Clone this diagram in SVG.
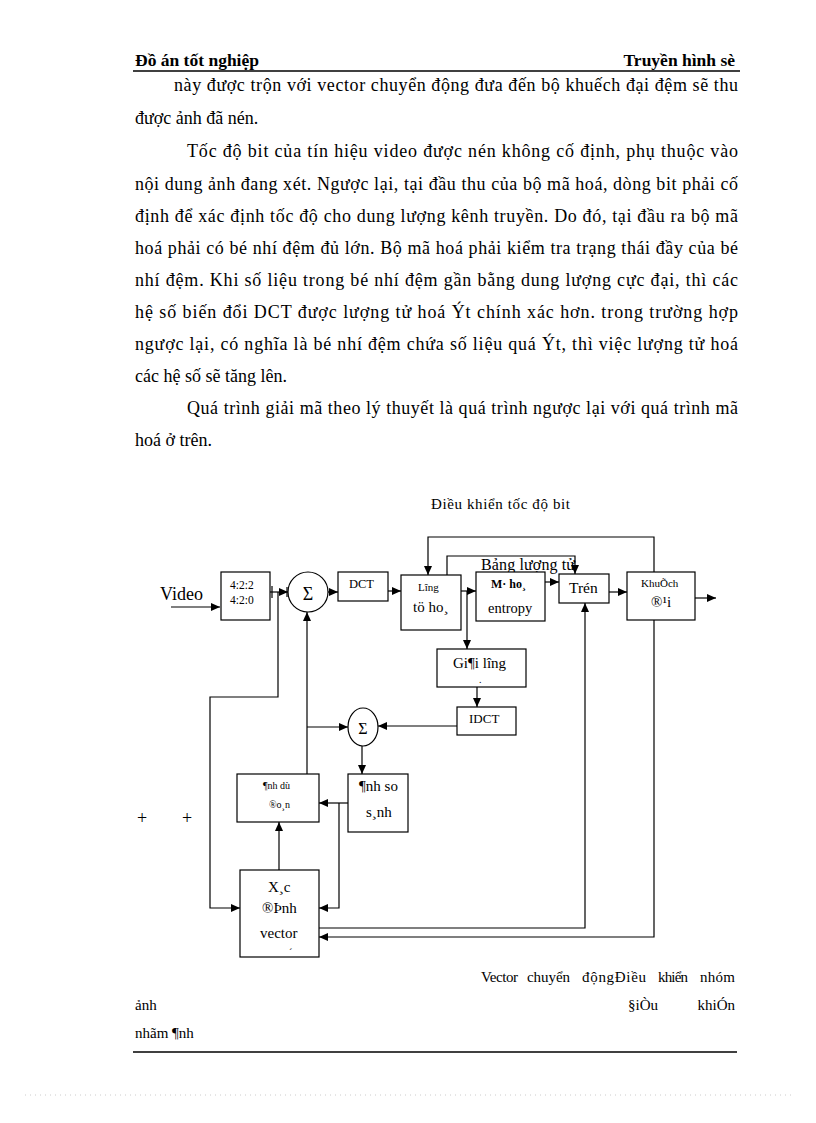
<svg xmlns="http://www.w3.org/2000/svg" width="816" height="1123" viewBox="0 0 816 1123">
<style>
.t{font-family:"Liberation Serif","Times New Roman",serif;fill:#000}
.b{font-size:18px}
.h{font-size:17.5px;font-weight:bold}
.box{fill:#fff;stroke:#000;stroke-width:1.2}
.c{fill:none;stroke:#000;stroke-width:1.2}
</style>
<defs>
<marker id="a" markerWidth="9" markerHeight="8" refX="9" refY="4" orient="auto" markerUnits="userSpaceOnUse">
<path d="M0,0 L9,4 L0,8 z" fill="#000"/>
</marker>
</defs>
<rect width="816" height="1123" fill="#fff"/>
<!-- header -->
<text class="t h" x="135" y="66">Đồ án tốt nghiệp</text>
<text class="t h" x="735" y="66" text-anchor="end">Truyền hình sè</text>
<line x1="133" y1="71" x2="740" y2="71" stroke="#000" stroke-width="1.3"/>
<!-- body -->
<g class="t b">
<text x="174" y="91" textLength="564" lengthAdjust="spacing">này được trộn với vector chuyển động đưa đến bộ khuếch đại đệm sẽ thu</text>
<text x="135" y="124">được ảnh đã nén.</text>
<text x="187" y="157" textLength="551" lengthAdjust="spacing">Tốc độ bit của tín hiệu video được nén không cố định, phụ thuộc vào</text>
<text x="135" y="190" textLength="603" lengthAdjust="spacing">nội dung ảnh đang xét. Ngược lại, tại đầu thu của bộ mã hoá, dòng bit phải cố</text>
<text x="135" y="222" textLength="603" lengthAdjust="spacing">định để xác định tốc độ cho dung lượng kênh truyền. Do đó, tại đầu ra bộ mã</text>
<text x="135" y="254" textLength="603" lengthAdjust="spacing">hoá phải có bé nhí đệm đủ lớn. Bộ mã hoá phải kiểm tra trạng thái đầy của bé</text>
<text x="135" y="286" textLength="603" lengthAdjust="spacing">nhí đệm. Khi số liệu trong bé nhí đệm gần bằng dung lượng cực đại, thì các</text>
<text x="135" y="318" textLength="603" lengthAdjust="spacing">hệ số biến đổi DCT được lượng tử hoá Ýt chính xác hơn. trong trường hợp</text>
<text x="135" y="350" textLength="603" lengthAdjust="spacing">ngược lại, có nghĩa là bé nhí đệm chứa số liệu quá Ýt, thì việc lượng tử hoá</text>
<text x="135" y="382">các hệ số sẽ tăng lên.</text>
<text x="187" y="414" textLength="551" lengthAdjust="spacing">Quá trình giải mã theo lý thuyết là quá trình ngược lại với quá trình mã</text>
<text x="135" y="446">hoá ở trên.</text>
</g>
<!-- diagram labels -->
<text class="t" x="431" y="509" font-size="15" textLength="139" lengthAdjust="spacing">Điều khiển tốc độ bit</text>
<text class="t" x="160" y="600" font-size="18">Video</text>
<text class="t" x="481" y="570" font-size="16" textLength="94" lengthAdjust="spacing">Bảng lượng tử</text>
<text class="t" x="142" y="824" font-size="18" text-anchor="middle">+</text>
<text class="t" x="187" y="824" font-size="18" text-anchor="middle">+</text>
<!-- connectors -->
<g id="connectors" class="c">
<line x1="171" y1="607" x2="220" y2="607" marker-end="url(#a)"/>
<line x1="270" y1="592" x2="288" y2="592" marker-end="url(#a)"/>
<line x1="272" y1="586" x2="272" y2="598"/>
<line x1="287" y1="587" x2="287" y2="597"/>
<line x1="328" y1="592" x2="338" y2="592" marker-end="url(#a)"/>
<line x1="388" y1="591" x2="401" y2="591" marker-end="url(#a)"/>
<line x1="461" y1="591" x2="476" y2="591" marker-end="url(#a)"/>
<line x1="467" y1="591" x2="467" y2="649" marker-end="url(#a)"/>
<line x1="545" y1="582" x2="559" y2="582" marker-end="url(#a)"/>
<line x1="609" y1="592" x2="627" y2="592" marker-end="url(#a)"/>
<line x1="695" y1="598" x2="716" y2="598" marker-end="url(#a)"/>
<polyline points="654,572 654,537 428,537 428,575" marker-end="url(#a)"/>
<polyline points="447,575 447,556 575,556 575,574" marker-end="url(#a)"/>
<line x1="477" y1="687" x2="477" y2="707" marker-end="url(#a)"/>
<line x1="457" y1="726" x2="378" y2="726" marker-end="url(#a)"/>
<line x1="362" y1="746" x2="362" y2="774" marker-end="url(#a)"/>
<line x1="307" y1="774" x2="307" y2="612" marker-end="url(#a)"/>
<line x1="307" y1="727" x2="348" y2="727" marker-end="url(#a)"/>
<line x1="348" y1="803" x2="319" y2="803" marker-end="url(#a)"/>
<polyline points="339,803 339,908 319,908" marker-end="url(#a)"/>
<line x1="279" y1="870" x2="279" y2="822" marker-end="url(#a)"/>
<polyline points="278,592 278,697 210,697 210,908 240,908" marker-end="url(#a)"/>
<polyline points="319,928 585,928 585,603" marker-end="url(#a)"/>
<polyline points="654,620 654,937 319,937" marker-end="url(#a)"/>
</g>
<!-- nodes -->
<g id="n-422">
<rect class="box" x="221" y="572" width="49" height="48"/>
<text class="t" x="230" y="589" font-size="11.5">4:2:2</text>
<text class="t" x="230" y="604" font-size="11.5">4:2:0</text>
</g>
<g id="n-sum1">
<circle class="box" cx="308" cy="592" r="20"/>
<text class="t" x="308" y="600" font-size="18" text-anchor="middle">Σ</text>
</g>
<g id="n-dct">
<rect class="box" x="338" y="572" width="50" height="29"/>
<text class="t" x="349" y="588" font-size="12.5">DCT</text>
</g>
<g id="n-luong">
<rect class="box" x="401" y="575" width="60" height="55"/>
<text class="t" x="418" y="591" font-size="11">Lîng</text>
<text class="t" x="413" y="612" font-size="15">tö ho¸</text>
</g>
<g id="n-maho">
<rect class="box" x="476" y="572" width="69" height="49"/>
<text class="t" x="491" y="588" font-size="12" font-weight="bold">M· ho¸</text>
<text class="t" x="488" y="613" font-size="14.5">entropy</text>
</g>
<g id="n-tron">
<rect class="box" x="559" y="574" width="50" height="29"/>
<text class="t" x="569" y="593" font-size="15.5">Trén</text>
</g>
<g id="n-khuech">
<rect class="box" x="627" y="572" width="68" height="48"/>
<text class="t" x="641" y="587" font-size="11">KhuÕch</text>
<text class="t" x="651" y="607" font-size="15">®¹i</text>
</g>
<g id="n-giai">
<rect class="box" x="437" y="649" width="89" height="38"/>
<text class="t" x="453" y="668" font-size="15">Gi¶i lîng</text>
<text class="t" x="479" y="683" font-size="10">.</text>
</g>
<g id="n-idct">
<rect class="box" x="457" y="707" width="59" height="28"/>
<text class="t" x="469" y="723" font-size="13">IDCT</text>
</g>
<g id="n-sum2">
<ellipse class="box" cx="363" cy="727" rx="15" ry="19"/>
<text class="t" x="363" y="734" font-size="16" text-anchor="middle">Σ</text>
</g>
<g id="n-anhdu">
<rect class="box" x="237" y="774" width="82" height="48"/>
<text class="t" x="263" y="789" font-size="10">¶nh dù</text>
<text class="t" x="269" y="808" font-size="10">®o¸n</text>
</g>
<g id="n-anhso">
<rect class="box" x="348" y="774" width="60" height="58"/>
<text class="t" x="359" y="791" font-size="15">¶nh so</text>
<text class="t" x="366" y="817" font-size="15">s¸nh</text>
</g>
<g id="n-xacdinh">
<rect class="box" x="240" y="870" width="79" height="87"/>
<text class="t" x="268" y="892" font-size="15">X¸c</text>
<text class="t" x="262" y="913" font-size="15">®Þnh</text>
<text class="t" x="260" y="938" font-size="15">vector</text>
<text class="t" x="289" y="956" font-size="10">´</text>
</g>
<!-- footer -->
<g class="t" font-size="15">
<text x="481" y="982" textLength="37" lengthAdjust="spacing">Vector</text>
<text x="527" y="982" textLength="43" lengthAdjust="spacing">chuyển</text>
<text x="582" y="982" textLength="64" lengthAdjust="spacing">độngĐiều</text>
<text x="658" y="982" textLength="30" lengthAdjust="spacing">khiển</text>
<text x="700" y="982" textLength="35" lengthAdjust="spacing">nhóm</text>
<text x="135" y="1010">ảnh</text>
<text x="628" y="1010">§iÒu</text>
<text x="735" y="1010" text-anchor="end">khiÓn</text>
<text x="135" y="1038">nhãm ¶nh</text>
</g>
<line x1="133" y1="1052" x2="737" y2="1052" stroke="#000" stroke-width="1.3"/>
<line x1="25" y1="1095" x2="795" y2="1095" stroke="#ccc" stroke-width="1" stroke-dasharray="1,4"/>
</svg>
